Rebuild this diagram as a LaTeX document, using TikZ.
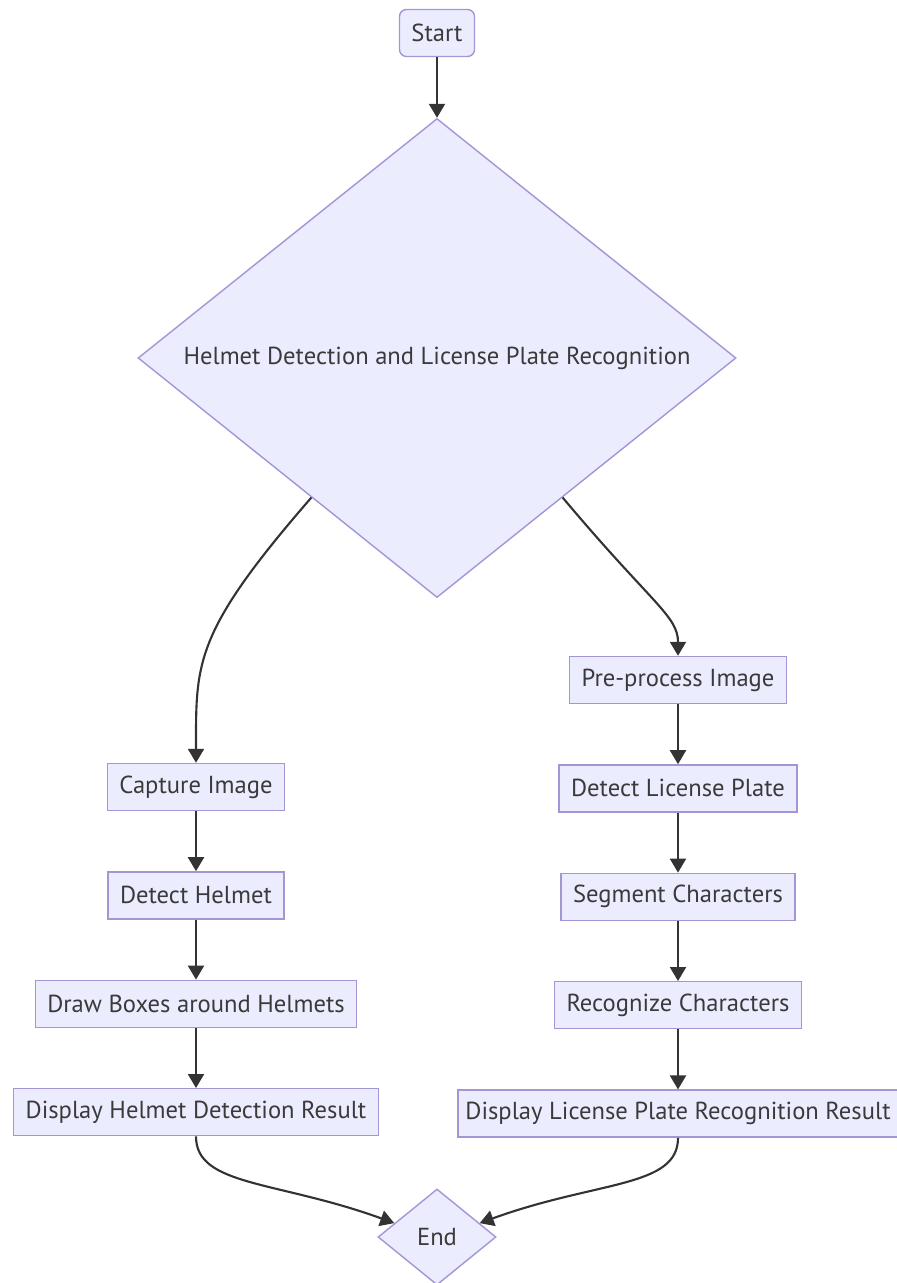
\documentclass[tikz,border=0pt]{standalone}
\usepackage{fontspec}
\setmainfont{PT Sans}
\usetikzlibrary{positioning,shapes.geometric,arrows.meta}

\definecolor{boxfill}{HTML}{ECECFF}
\definecolor{boxline}{HTML}{A395D6}
\definecolor{linkgray}{HTML}{333333}
\definecolor{txtgray}{HTML}{3A3A3A}

\begin{document}
\begin{tikzpicture}[
    font=\fontsize{14}{16}\selectfont,
    process/.style={rectangle, draw=boxline, fill=boxfill, line width=0.8pt, minimum height=0.94cm, inner xsep=0.24cm, text=txtgray},
    terminal/.style={process, rounded corners=4pt},
    decision/.style={diamond, draw=boxline, fill=boxfill, line width=0.8pt, inner sep=0pt, text=txtgray},
    arrow/.style={-{Triangle[length=2.8mm,width=3.2mm]}, line width=1.2pt, draw=linkgray}
]
    \useasboundingbox (0,0) rectangle (17.92,-25.66);

    \node[terminal] (start) at (8.74,-0.66) {Start};

    \node[decision, minimum width=11.96cm, minimum height=9.58cm,
          label={[text=txtgray]center:Helmet Detection and License Plate Recognition}] (hdlpr) at (8.74,-7.16) {};

    % helmet branch
    \node[process] (capture) at (3.92,-15.74) {Capture Image};
    \node[process, below=1.2cm of capture] (dethelmet) {Detect Helmet};
    \node[process, below=1.2cm of dethelmet] (drawboxes) {Draw Boxes around Helmets};
    \node[process, below=1.2cm of drawboxes] (helmetres) {Display Helmet Detection Result};

    % plate branch
    \node[process] (preproc) at (13.56,-13.6) {Pre-process Image};
    \node[process, below=1.2cm of preproc] (detplate) {Detect License Plate};
    \node[process, below=1.2cm of detplate] (segchars) {Segment Characters};
    \node[process, below=1.2cm of segchars] (recchars) {Recognize Characters};
    \node[process, below=1.2cm of recchars, inner xsep=0.15cm] (plateres) {Display License Plate Recognition Result};

    \node[decision, minimum width=2.36cm, minimum height=1.92cm] (finish) at (8.74,-24.74) {End};

    \draw[arrow] (start) -- (hdlpr);
    \draw[arrow] (hdlpr.-132) to[out=-131,in=90,out distance=3.6cm,in distance=2cm] (capture.north);
    \draw[arrow] (hdlpr.-48) to[out=-50,in=90,out distance=2.8cm,in distance=0.8cm] (preproc.north);

    \draw[arrow] (capture) -- (dethelmet);
    \draw[arrow] (dethelmet) -- (drawboxes);
    \draw[arrow] (drawboxes) -- (helmetres);

    \draw[arrow] (preproc) -- (detplate);
    \draw[arrow] (detplate) -- (segchars);
    \draw[arrow] (segchars) -- (recchars);
    \draw[arrow] (recchars) -- (plateres);

    \draw[arrow] (helmetres.south) to[out=-90,in=160,out distance=1cm,in distance=2.5cm] (finish.162);
    \draw[arrow] (plateres.south) to[out=-90,in=20,out distance=1cm,in distance=2.5cm] (finish.18);
\end{tikzpicture}
\end{document}
